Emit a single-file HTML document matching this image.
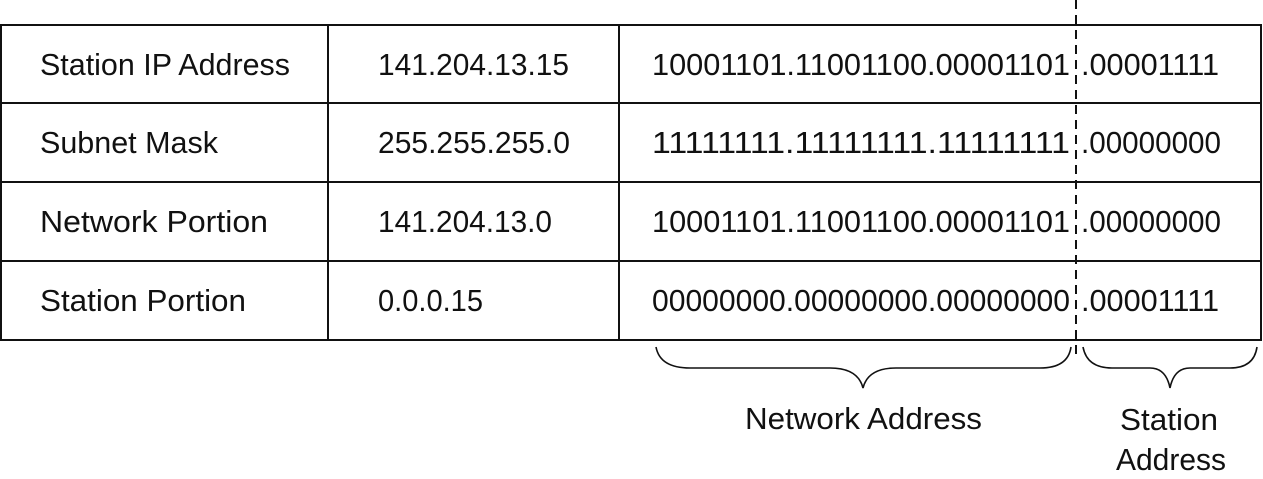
<!DOCTYPE html>
<html><head><meta charset="utf-8"><style>
html,body{margin:0;padding:0;background:#fff;}
svg{display:block;}
text{font-family:"Liberation Sans",sans-serif;font-size:31px;fill:#111;}
</style></head><body>
<svg width="1263" height="479" viewBox="0 0 1263 479">
<g stroke="#111" stroke-width="2" fill="none">
<rect x="1" y="25" width="1260" height="315"/>
<line x1="1" y1="103" x2="1261" y2="103"/>
<line x1="1" y1="182" x2="1261" y2="182"/>
<line x1="1" y1="261" x2="1261" y2="261"/>
<line x1="328" y1="25" x2="328" y2="340"/>
<line x1="619" y1="25" x2="619" y2="340"/>
<line x1="1076" y1="0" x2="1076" y2="360" stroke-dasharray="9,6"/>
<path d="M656 347 Q660 368 690 368 L830 368 Q858 368 863 388 Q868 368 896 368 L1040 368 Q1068 368 1071 347" stroke-width="1.6"/>
<path d="M1083 347 Q1087 368 1112 368 L1150 368 Q1166 368 1170 388 Q1174 368 1190 368 L1230 368 Q1254 368 1257 347" stroke-width="1.6"/>
</g>
<g lengthAdjust="spacingAndGlyphs">
<text x="40" y="75" textLength="250" lengthAdjust="spacingAndGlyphs">Station IP Address</text>
<text x="40" y="153" textLength="178" lengthAdjust="spacingAndGlyphs">Subnet Mask</text>
<text x="40" y="232" textLength="228" lengthAdjust="spacingAndGlyphs">Network Portion</text>
<text x="40" y="311" textLength="206" lengthAdjust="spacingAndGlyphs">Station Portion</text>
<text x="378" y="75" textLength="191" lengthAdjust="spacingAndGlyphs">141.204.13.15</text>
<text x="378" y="153" textLength="192" lengthAdjust="spacingAndGlyphs">255.255.255.0</text>
<text x="378" y="232" textLength="174" lengthAdjust="spacingAndGlyphs">141.204.13.0</text>
<text x="378" y="311" textLength="105" lengthAdjust="spacingAndGlyphs">0.0.0.15</text>
<text x="652" y="75" textLength="418" lengthAdjust="spacingAndGlyphs">10001101.11001100.00001101</text>
<text x="652" y="153" textLength="418" lengthAdjust="spacingAndGlyphs">11111111.11111111.11111111</text>
<text x="652" y="232" textLength="418" lengthAdjust="spacingAndGlyphs">10001101.11001100.00001101</text>
<text x="652" y="311" textLength="418" lengthAdjust="spacingAndGlyphs">00000000.00000000.00000000</text>
<text x="1081" y="75" textLength="138" lengthAdjust="spacingAndGlyphs">.00001111</text>
<text x="1081" y="153" textLength="140" lengthAdjust="spacingAndGlyphs">.00000000</text>
<text x="1081" y="232" textLength="140" lengthAdjust="spacingAndGlyphs">.00000000</text>
<text x="1081" y="311" textLength="138" lengthAdjust="spacingAndGlyphs">.00001111</text>
<text x="745" y="429" textLength="237" lengthAdjust="spacingAndGlyphs">Network Address</text>
<text x="1120" y="430" textLength="98" lengthAdjust="spacingAndGlyphs">Station</text>
<text x="1116" y="470" textLength="110" lengthAdjust="spacingAndGlyphs">Address</text>
</g>
</svg>
</body></html>
